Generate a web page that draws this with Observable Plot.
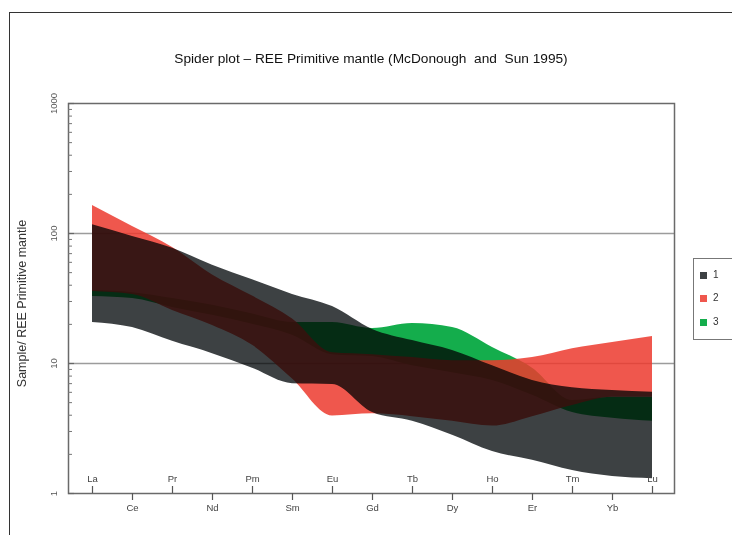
<!DOCTYPE html>
<html>
<head>
<meta charset="utf-8">
<script src="https://cdn.jsdelivr.net/npm/d3@7"></script>
<script src="https://cdn.jsdelivr.net/npm/@observablehq/plot@0.6"></script>
<style>
  html, body { margin: 0; padding: 0; background: #fff; }
  #wrap { position: relative; width: 732px; height: 535px; overflow: hidden;
          font-family: "Liberation Sans", Arial, sans-serif; }
  #border { position: absolute; left: 9px; top: 12px; width: 800px; height: 600px;
            border: 1.5px solid #333; }
  #title { position: absolute; left: 0; width: 742px; top: 51px; text-align: center;
           font-size: 13.7px; white-space: pre; color: #111; }
  #chart { position: absolute; left: 0; top: 0; }
  #chart svg g.group1 path { mix-blend-mode: multiply; }
  #legend { position: absolute; left: 693px; top: 258px; width: 60px; height: 80px;
            border: 1px solid #777; background: #fff; }
  .item { position: absolute; left: 6px; font-size: 10px; color: #333; line-height: 10px; }
  .item span { display: inline-block; width: 7px; height: 7px; margin-right: 6px; vertical-align: -1px; }
</style>
</head>
<body>
<div id="wrap">
  <div id="border"></div>
  <div id="title"></div>
  <div id="chart"></div>
  <div id="legend"></div>
</div>
<script>
// REE order along the x axis
const elements = ["La","Ce","Pr","Nd","Pm","Sm","Eu","Gd","Tb","Dy","Ho","Er","Tm","Yb","Lu"];

// Envelope of group 1 (normalised to primitive mantle)
const group1High = [117, 95, 77, 57, 44, 34, 27.4, 18.3, 15.0, 12.6, 9.6, 7.4, 6.5, 6.2, 6.0];
const group1Low  = [20.7, 18.9, 14.8, 11.9, 9.2, 7.0, 6.9, 4.2, 3.6, 2.8, 2.1, 1.8, 1.5, 1.35, 1.3];

// Envelope of group 2
const group2High = [164, 113, 78, 48, 33, 22, 12.1, 11.7, 11.1, 10.5, 10.5, 11.1, 13.0, 14.5, 16.1];
const group2Low  = [35.8, 33.9, 25.6, 19.6, 13.8, 7.6, 3.95, 4.1, 3.9, 3.6, 3.3, 3.9, 4.75, 5.5, 5.5];

// Envelope of group 3
const group3High = [36.4, 35, 31.6, 28, 24, 20.7, 20.7, 18.6, 20.3, 18.9, 13.3, 9.2, 5.2, 5.5, 5.5];
const group3Low  = [32.8, 31.6, 27, 23.5, 20, 16.5, 11.7, 11.3, 9.6, 8.5, 7.4, 5.7, 4.2, 3.8, 3.6];

const groupNames  = ["1", "2", "3"];
const legendColors = ["#3d4143", "#ef574d", "#14ad4c"];

const titleText = "Spider plot \u2013 REE Primitive mantle (McDonough  and  Sun 1995)";
const yTitle = "Sample/ REE Primitive mantle";
const majorTicks = [1, 10, 100, 1000];
const gridValues = [10, 100];
const minorTicks = [1, 10, 100].flatMap(d => [2,3,4,5,6,7,8,9].map(k => d * k));

// Labels alternate: odd positions above the axis, even positions below it
const upperRow = elements.filter((_, i) => i % 2 === 0);
const lowerRow = elements.filter((_, i) => i % 2 === 1);

const W = 732, H = 535;
const mL = 68, mR = 58, mT = 103, mB = 42;
const plotW = W - mL - mR, plotH = H - mT - mB;

const rows = (hi, lo) => elements.map((el, i) => ({el, hi: hi[i], lo: lo[i]}));
const font = "Liberation Sans, Arial, sans-serif";

// Drawing order: green envelope, translucent red on top, then the grey
// envelope multiplied over both so overlaps darken.
const chart = Plot.plot({
  width: W, height: H,
  marginLeft: mL, marginRight: mR, marginTop: mT, marginBottom: mB,
  style: {fontFamily: font, background: "transparent", overflow: "visible"},
  x: {type: "point", domain: elements, padding: 0, insetLeft: 24, insetRight: 22, axis: null},
  y: {type: "log", domain: [1, 1000], axis: null},
  marks: [
    Plot.ruleY(gridValues, {stroke: "#9c9c9c", strokeWidth: 1.6}),
    Plot.areaY(rows(group3High, group3Low), {x: "el", y1: "lo", y2: "hi", fill: "#14ad4c",
                                             curve: "monotone-x"}),
    Plot.areaY(rows(group2High, group2Low), {x: "el", y1: "lo", y2: "hi", fill: "#ec3a2e",
                                             fillOpacity: 0.85, curve: "monotone-x"}),
    Plot.areaY(rows(group1High, group1Low), {x: "el", y1: "lo", y2: "hi", fill: "#3d4143",
                                             curve: "monotone-x", className: "group1"}),
    Plot.frame({stroke: "#6a6a6a", strokeWidth: 1.5}),
    Plot.tickY(majorTicks, {y: d => d, insetRight: plotW - 6, stroke: "#666", strokeWidth: 1.2}),
    Plot.tickY(minorTicks, {y: d => d, insetRight: plotW - 4, stroke: "#777", strokeWidth: 1}),
    Plot.text(majorTicks, {y: d => d, text: d => String(d), frameAnchor: "left", textAnchor: "middle",
                           rotate: -90, dx: -15, fontSize: 9.5, fill: "#555"}),
    Plot.text([yTitle], {frameAnchor: "left", text: d => d, textAnchor: "middle", rotate: -90,
                         dx: -47, dy: 5, fontSize: 12.5, fill: "#333"}),
    Plot.tickX(upperRow, {x: d => d, insetTop: plotH - 7, stroke: "#555", strokeWidth: 1.2}),
    Plot.text(upperRow, {x: d => d, text: d => d, frameAnchor: "bottom", dy: -12,
                         fontSize: 9.5, fill: "#444"}),
    Plot.tickX(lowerRow, {x: d => d, insetTop: plotH, insetBottom: -7, stroke: "#555", strokeWidth: 1.2}),
    Plot.text(lowerRow, {x: d => d, text: d => d, frameAnchor: "bottom", dy: 17,
                         fontSize: 9.5, fill: "#444"})
  ]
});
document.getElementById("chart").appendChild(chart);
document.getElementById("title").textContent = titleText;

const legend = document.getElementById("legend");
const legendY = [11, 34, 58];
groupNames.forEach((name, i) => {
  const item = document.createElement("div");
  item.className = "item";
  item.style.top = legendY[i] + "px";
  item.innerHTML = `<span style="background:${legendColors[i]}"></span>${name}`;
  legend.appendChild(item);
});
</script>
</body>
</html>
